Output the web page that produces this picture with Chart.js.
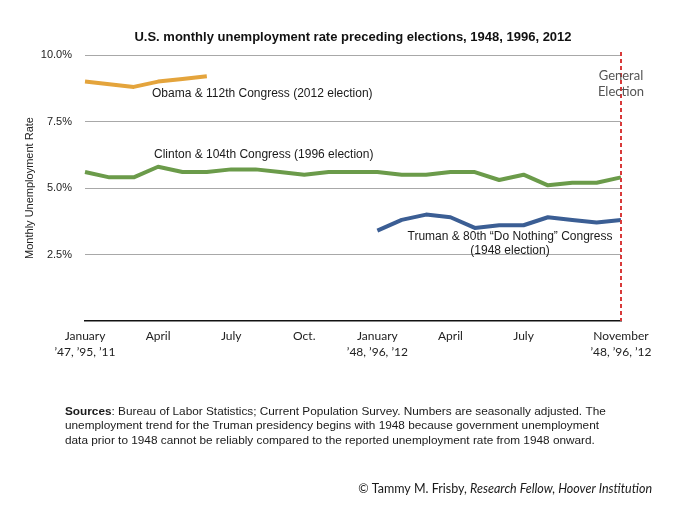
<!DOCTYPE html>
<html>
<head>
<meta charset="utf-8">
<script src="https://cdn.jsdelivr.net/npm/chart.js@4.4.1/dist/chart.umd.min.js"></script>
<style>
  html, body { margin: 0; padding: 0; background: #fff; }
  canvas { display: block; }
</style>
</head>
<body>
<canvas id="unempChart" width="690" height="518"></canvas>
<script>
// Months from January of the year before the election to November of election year
const months = ['Jan','Feb','Mar','Apr','May','Jun','Jul','Aug','Sep','Oct','Nov','Dec',
                'Jan','Feb','Mar','Apr','May','Jun','Jul','Aug','Sep','Oct','Nov'];

// Which months get a label on the x axis, and the label text
const tickIndex = [0, 3, 6, 9, 12, 15, 18, 22];
const tickText = [
    ['January', '\u201947, \u201995, \u201911'],
    'April', 'July', 'Oct.',
    ['January', '\u201948, \u201996, \u201912'],
    'April', 'July',
    ['November', '\u201948, \u201996, \u201912']
];

const yTicks = [2.5, 5.0, 7.5, 10.0];

// Unemployment rate, %
const obama2012   = [9.0, 8.9, 8.8, 9.0, 9.1, 9.2];
const clinton1996 = [5.6, 5.4, 5.4, 5.8, 5.6, 5.6, 5.7, 5.7, 5.6, 5.5, 5.6, 5.6,
                     5.6, 5.5, 5.5, 5.6, 5.6, 5.3, 5.5, 5.1, 5.2, 5.2, 5.4];
const truman1948  = [3.4, 3.8, 4.0, 3.9, 3.5, 3.6, 3.6, 3.9, 3.8, 3.7, 3.8];

const electionIndex = 22;

const HELV = '"Liberation Sans", Arial, Helvetica, sans-serif';
const GILL = 'Lato, "Open Sans", sans-serif';

// pad series to full month length
const pad = (arr, start) => months.map((_, i) => (i >= start && i - start < arr.length) ? arr[i - start] : null);

// Extra text: title, annotations, election marker, footer
const annotations = {
    id: 'annotations',
    afterDatasetsDraw(chart) {
        const { ctx, chartArea, scales } = chart;
        const xE = scales.x.getPixelForValue(electionIndex);

        // dashed red election line
        ctx.save();
        ctx.strokeStyle = '#d83a3a';
        ctx.lineWidth = 2;
        ctx.setLineDash([4, 3]);
        ctx.beginPath();
        ctx.moveTo(xE, chartArea.top - 3);
        ctx.lineTo(xE, chartArea.bottom);
        ctx.stroke();
        ctx.restore();
    },
    afterDraw(chart) {
        const { ctx, scales } = chart;
        const xE = scales.x.getPixelForValue(electionIndex);
        ctx.save();
        ctx.textBaseline = 'middle';

        // title
        ctx.fillStyle = '#111';
        ctx.textAlign = 'center';
        ctx.font = 'bold 13px ' + HELV;
        ctx.fillText('U.S. monthly unemployment rate preceding elections, 1948, 1996, 2012', 353, 37);

        ctx.fillStyle = '#1a1a1a';
        ctx.font = '12px ' + HELV;
        ctx.textAlign = 'left';
        ctx.fillText('Obama & 112th Congress (2012 election)', 152, 94);
        ctx.fillText('Clinton & 104th Congress (1996 election)', 154, 155);
        ctx.textAlign = 'center';
        ctx.fillText('Truman & 80th \u201cDo Nothing\u201d Congress', 510, 237);
        ctx.fillText('(1948 election)', 510, 251);

        ctx.fillStyle = '#555';
        ctx.font = '13px ' + GILL;
        ctx.fillText('General', xE, 76);
        ctx.fillText('Election', xE, 92);

        // sources note
        ctx.fillStyle = '#1a1a1a';
        ctx.textAlign = 'left';
        ctx.font = 'bold 11.8px ' + HELV;
        const lbl = 'Sources';
        ctx.fillText(lbl, 65, 412);
        const w = ctx.measureText(lbl).width;
        ctx.font = '11.8px ' + HELV;
        ctx.fillText(': Bureau of Labor Statistics; Current Population Survey. Numbers are seasonally adjusted. The', 65 + w, 412);
        ctx.fillText('unemployment trend for the Truman presidency begins with 1948 because government unemployment', 65, 426);
        ctx.fillText('data prior to 1948 cannot be reliably compared to the reported unemployment rate from 1948 onward.', 65, 441);

        // credit line, right aligned
        const plain = '\u00a9 Tammy M. Frisby, ';
        const ital = 'Research Fellow, Hoover Institution';
        ctx.font = 'italic 12.5px ' + GILL;
        const wi = ctx.measureText(ital).width;
        ctx.font = '12.5px ' + GILL;
        const wp = ctx.measureText(plain).width;
        const right = 652;
        ctx.fillText(plain, right - wi - wp, 489);
        ctx.font = 'italic 12.5px ' + GILL;
        ctx.fillText(ital, right - wi, 489);
        ctx.restore();
    }
};

const lineStyle = (color) => ({
    borderColor: color,
    backgroundColor: color,
    borderWidth: 4,
    pointRadius: 0,
    tension: 0,
    borderJoinStyle: 'round',
    borderCapStyle: 'butt',
    spanGaps: false,
    fill: false
});

new Chart(document.getElementById('unempChart').getContext('2d'), {
    type: 'line',
    data: {
        labels: months,
        datasets: [
            { label: 'Obama & 112th Congress (2012 election)', data: pad(obama2012, 0), ...lineStyle('#e4a43c') },
            { label: 'Clinton & 104th Congress (1996 election)', data: pad(clinton1996, 0), ...lineStyle('#6b9b4a') },
            { label: 'Truman & 80th Congress (1948 election)', data: pad(truman1948, 12), ...lineStyle('#3b5e94') }
        ]
    },
    options: {
        responsive: false,
        animation: false,
        layout: { padding: { left: 0, right: 69, top: 55, bottom: 157 } },
        plugins: {
            legend: { display: false },
            tooltip: { enabled: false },
            title: { display: false }
        },
        scales: {
            x: {
                type: 'category',
                offset: false,
                grid: { display: false, drawTicks: false },
                border: { display: true, color: '#111', width: 1.5 },
                afterFit: (scale) => { scale.height = 40; },
                ticks: {
                    autoSkip: false,
                    maxRotation: 0,
                    minRotation: 0,
                    padding: 7,
                    color: '#222',
                    font: { family: GILL, size: 12, lineHeight: 1.35 },
                    callback: (val, i) => {
                        const k = tickIndex.indexOf(i);
                        return k >= 0 ? tickText[k] : '';
                    }
                }
            },
            y: {
                min: 0,
                max: 10,
                afterFit: (scale) => { scale.width = 85; },
                afterBuildTicks: (scale) => { scale.ticks = [0, ...yTicks].map(v => ({ value: v })); },
                grid: {
                    drawTicks: false,
                    color: (c) => c.tick && c.tick.value === 0 ? 'rgba(0,0,0,0)' : '#a8a8a8',
                    lineWidth: 1
                },
                border: { display: false },
                title: {
                    display: true,
                    text: 'Monthly Unemployment Rate',
                    color: '#222',
                    font: { family: HELV, size: 11 },
                    padding: { top: 23, bottom: 0 }
                },
                ticks: {
                    padding: 13,
                    color: '#222',
                    font: { family: HELV, size: 11 },
                    callback: (v) => v === 0 ? '' : Number(v).toFixed(1) + '%'
                }
            }
        }
    },
    plugins: [annotations]
});
</script>
</body>
</html>
